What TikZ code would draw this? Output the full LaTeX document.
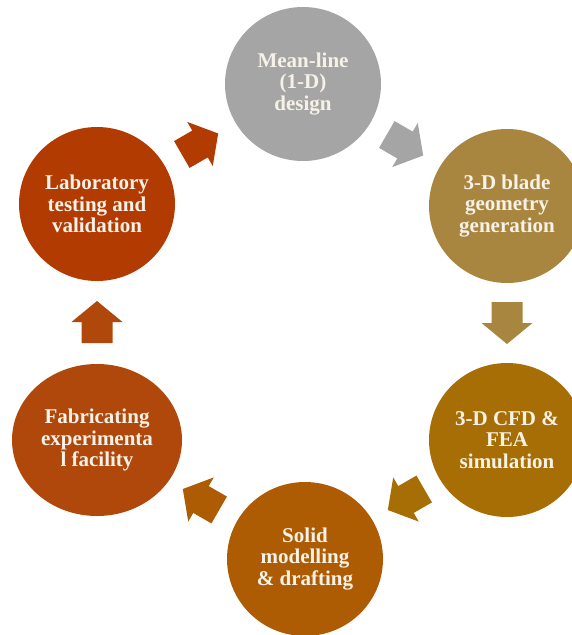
\documentclass[tikz,border=0pt]{standalone}
\usepackage{fontspec}
\setmainfont{Liberation Serif}
\usetikzlibrary{calc,shapes.geometric}

\definecolor{cGray}{HTML}{A5A5A5}
\definecolor{cTan}{HTML}{A98640}
\definecolor{cGold}{HTML}{A66E05}
\definecolor{cOrange}{HTML}{AE5C04}
\definecolor{cRust}{HTML}{B0480C}
\definecolor{cRed}{HTML}{B23B02}
\definecolor{cText}{HTML}{F7F2E8}

\tikzset{
  stage/.style={ellipse, minimum width=156pt, minimum height=154pt,
    inner sep=0pt, fill=#1, text=cText, align=center,
    font=\bfseries\fontsize{21pt}{21.5pt}\selectfont},
  widestage/.style={stage=#1, minimum width=170pt, minimum height=152pt},
  blockarrow/.pic={
    \path[pic actions] (-21,-15.5) -- (0,-15.5) -- (0,-25.5) -- (21,0)
      -- (0,25.5) -- (0,15.5) -- (-21,15.5) -- cycle;
  }
}

\begin{document}
\begin{tikzpicture}[x=1pt,y=1pt]
\useasboundingbox (0,0) rectangle (572,-635);
\clip (0,0) rectangle (572,-635);

% process stages
\node[stage=cGray]     (mean) at (303,-84)  {Mean-line\\(1-D)\\design};
\node[stage=cTan]      (geom) at (507,-206) {3-D blade\\geometry\\generation};
\node[stage=cGold]     (cfd)  at (507,-440) {3-D CFD \&\\FEA\\simulation};
\node[stage=cOrange]   (cad)  at (305,-559) {Solid\\modelling\\\& drafting};
\node[widestage=cRust] (fab)  at (97,-440)  {Fabricating\\experimenta\\l facility};
\node[stage=cRed]      (lab)  at (97,-204)  {Laboratory\\testing and\\validation};

% block arrows between consecutive stages
\pic[fill=cGray,   rotate=-30]  at ($(mean)!0.5!(geom)$) {blockarrow};
\pic[fill=cTan,    rotate=-90]  at ($(geom)!0.5!(cfd)$)  {blockarrow};
\pic[fill=cGold,   rotate=-150] at ($(cfd)!0.5!(cad)$)   {blockarrow};
\pic[fill=cOrange, rotate=150]  at ($(cad)!0.5!(fab)$)   {blockarrow};
\pic[fill=cRust,   rotate=90]   at ($(fab)!0.5!(lab)$)   {blockarrow};
\pic[fill=cRed,    rotate=30]   at ($(lab)!0.5!(mean)$)  {blockarrow};
\end{tikzpicture}
\end{document}
